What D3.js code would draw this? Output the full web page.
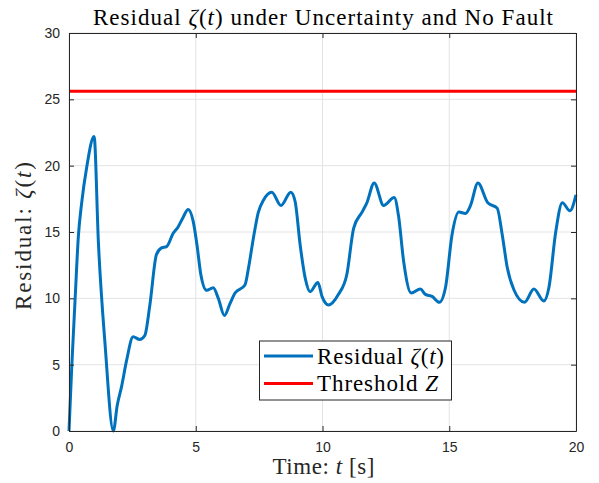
<!DOCTYPE html>
<html><head><meta charset="utf-8">
<script src="https://cdn.jsdelivr.net/npm/d3@7"></script>
<style>body{margin:0;background:#fff}</style>
</head><body>
<script>
const timeS = [0,0.11,0.24,0.37,0.5,0.7,0.99,1.16,1.42,1.75,1.9,2.08,2.27,2.53,2.79,2.99,3.19,3.45,3.65,3.85,4.11,4.31,4.5,4.7,4.9,5.05,5.2,5.43,5.69,5.89,6.13,6.35,6.55,6.94,7.1,7.27,7.47,7.67,8.0,8.36,8.75,8.92,9.12,9.32,9.51,9.82,9.98,10.24,10.63,10.96,11.23,11.56,11.75,12.04,12.41,12.83,13.0,13.2,13.5,13.86,14.06,14.32,14.61,14.85,15.11,15.38,15.64,15.84,16.13,16.52,16.89,17.09,17.29,17.55,17.97,18.34,18.73,18.93,19.2,19.46,19.76,20.0];
const residual = [0,4.9,9.9,14.7,17.2,19.9,22.2,14.2,6.6,0,1.9,3.4,5.3,7.1,6.9,7.2,9.5,13.3,13.8,13.9,14.9,15.4,16.1,16.7,15.8,14,11.8,10.6,10.8,10.0,8.7,9.6,10.4,11.0,12.5,14.5,16.5,17.4,18.0,17.0,18.0,17.3,14.0,11.5,10.5,11.2,10.15,9.5,10.3,11.8,15.3,16.5,17.2,18.7,17.0,17.6,16.2,12.8,10.4,10.7,10.3,10.15,9.7,10.8,14.8,16.5,16.4,17.0,18.7,17.2,16.8,14.8,12.3,10.65,9.7,10.7,9.8,10.8,15.0,17.2,16.6,17.8];
const thresholdZ = 25.6;
const xTicks = [0,5,10,15,20];
const yTicks = [0,5,10,15,20,25,30];

const W=599,H=483;
const L=69,R=576,T=33,B=431;
const svg=d3.select("body").append("svg").attr("width",W).attr("height",H);
const x=d3.scaleLinear().domain([0,20]).range([L,R]);
const y=d3.scaleLinear().domain([0,30]).range([B,T]);
const axisCol="#262626", serif="'Liberation Serif','DejaVu Serif',serif", sans="'Liberation Sans',Arial,sans-serif";

// grid
const g=svg.append("g");
g.selectAll(".gx").data(xTicks).enter().append("line").attr("x1",d=>x(d)).attr("x2",d=>x(d)).attr("y1",T).attr("y2",B).attr("stroke","#e3e3e3").attr("stroke-width",1);
g.selectAll(".gy").data(yTicks).enter().append("line").attr("y1",d=>y(d)).attr("y2",d=>y(d)).attr("x1",L).attr("x2",R).attr("stroke","#e3e3e3").attr("stroke-width",1);

// data
svg.append("line").attr("x1",x(0)).attr("x2",x(20)).attr("y1",y(thresholdZ)).attr("y2",y(thresholdZ)).attr("stroke","#ff0000").attr("stroke-width",3);
const pts=timeS.map((t,i)=>[t,residual[i]]);
svg.append("path").datum(pts).attr("fill","none").attr("stroke","#0072BD").attr("stroke-width",3).attr("stroke-linejoin","round")
  .attr("d",d3.line().x(d=>x(d[0])).y(d=>y(d[1])).curve(d3.curveMonotoneX));

// axes
const ax=svg.append("g").attr("transform",`translate(0,${B})`).call(d3.axisBottom(x).tickValues(xTicks).tickSizeInner(-5).tickSizeOuter(0).tickPadding(11));
const ay=svg.append("g").attr("transform",`translate(${L},0)`).call(d3.axisLeft(y).tickValues(yTicks).tickSizeInner(-5).tickSizeOuter(0).tickPadding(9));
const axt=svg.append("g").attr("transform",`translate(0,${T})`).call(d3.axisTop(x).tickValues(xTicks).tickSizeInner(-5).tickSizeOuter(0).tickFormat(""));
const ayr=svg.append("g").attr("transform",`translate(${R},0)`).call(d3.axisRight(y).tickValues(yTicks).tickSizeInner(-5).tickSizeOuter(0).tickFormat(""));
[ax,ay,axt,ayr].forEach(a=>{a.select(".domain").attr("stroke",axisCol).attr("stroke-width",1);a.selectAll(".tick line").attr("stroke",axisCol);
  a.selectAll("text").attr("fill",axisCol).style("font-family",sans).style("font-size","14px");});

function rich(sel,parts){parts.forEach(p=>sel.append("tspan").attr("font-style",p[1]?"italic":"normal").text(p[0]));return sel;}

// title
const title=svg.append("text").attr("x",(L+R)/2+0.5).attr("y",25).attr("text-anchor","middle").attr("textLength",460).attr("lengthAdjust","spacing").style("font-family",serif).style("font-size","23px").attr("fill","#000");
rich(title,[["Residual ",0],["ζ",1],["(",0],["t",1],[") under Uncertainty and No Fault",0]]);

// x label
const xl=svg.append("text").attr("x",(L+R)/2+1).attr("y",474).attr("text-anchor","middle").attr("textLength",102).attr("lengthAdjust","spacing").style("font-family",serif).style("font-size","23px").attr("fill","#262626");
rich(xl,[["Time: ",0],["t",1],[" [s]",0]]);

// y label
const yl=svg.append("text").attr("transform",`translate(31,236) rotate(-90)`).attr("text-anchor","middle").attr("textLength",148).attr("lengthAdjust","spacing").style("font-family",serif).style("font-size","23px").attr("fill","#262626");
rich(yl,[["Residual: ",0],["ζ",1],["(",0],["t",1],[")",0]]);

// legend
const lg=svg.append("g");
lg.append("rect").attr("x",259.5).attr("y",341).attr("width",192).attr("height",59).attr("fill","#fff").attr("stroke",axisCol).attr("stroke-width",1);
const legItems=[{c:"#0072BD",w:127,parts:[["Residual ",0],["ζ",1],["(",0],["t",1],[")",0]]},{c:"#ff0000",w:121,parts:[["Threshold ",0],["Z",1]]}];
legItems.forEach((it,i)=>{
  const yy=356+i*27.5;
  lg.append("line").attr("x1",264).attr("x2",313).attr("y1",yy).attr("y2",yy).attr("stroke",it.c).attr("stroke-width",3);
  const t=lg.append("text").attr("x",317).attr("y",yy+7.5).attr("textLength",it.w).attr("lengthAdjust","spacing").style("font-family",serif).style("font-size","23px").attr("fill","#000");
  rich(t,it.parts);
});
</script>
</body></html>
